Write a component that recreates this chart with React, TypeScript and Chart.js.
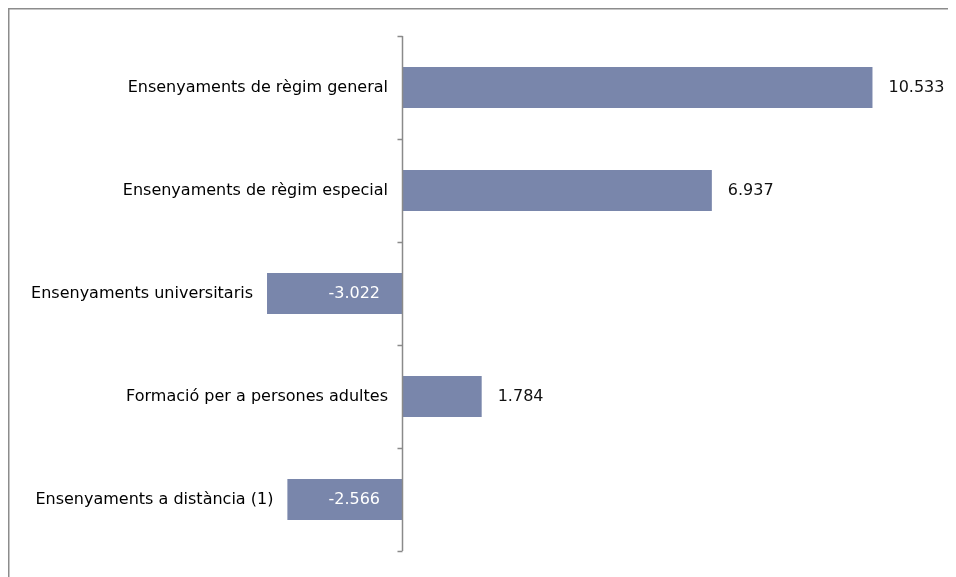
import React, { useEffect, useRef } from "react";
import { Chart, registerables } from "chart.js";

Chart.register(...registerables);

const categories = [
  "Ensenyaments de règim general",
  "Ensenyaments de règim especial",
  "Ensenyaments universitaris",
  "Formació per a persones adultes",
  "Ensenyaments a distància (1)",
];
const values = [10.533, 6.937, -3.022, 1.784, -2.566];
const valueLabels = ["10.533", "6.937", "-3.022", "1.784", "-2.566"];

const FONT = "'DejaVu Sans', sans-serif";
const BAR = "#7986ab";
const AXIS = "#8a8a8a";

const labelsPlugin = {
  id: "customLabels",
  afterDatasetsDraw(chart: any) {
    const { ctx, scales } = chart;
    const x = scales.x;
    const y = scales.y;
    const zero = x.getPixelForValue(0);
    ctx.save();
    ctx.font = `16px ${FONT}`;
    ctx.textBaseline = "middle";
    values.forEach((v, i) => {
      const cy = y.getPixelForValue(i);
      const end = x.getPixelForValue(v);
      // category label
      const left = Math.min(zero, end);
      ctx.fillStyle = "#000";
      ctx.textAlign = "right";
      ctx.fillText(categories[i], left - 14, cy);
      // value label
      if (v >= 0) {
        ctx.textAlign = "left";
        ctx.fillStyle = "#111";
        ctx.fillText(valueLabels[i], end + 16, cy);
      } else {
        ctx.textAlign = "right";
        ctx.fillStyle = "#ffffff";
        ctx.fillText(valueLabels[i], zero - 22, cy);
      }
    });
    ctx.restore();
  },
};

const framePlugin = {
  id: "frame",
  afterDraw(chart: any) {
    const { ctx, width, height } = chart;
    ctx.save();
    ctx.strokeStyle = "#8c8c8c";
    ctx.lineWidth = 1.5;
    ctx.beginPath();
    ctx.moveTo(0.75, height);
    ctx.lineTo(0.75, 0.75);
    ctx.lineTo(width, 0.75);
    ctx.stroke();
    ctx.restore();
  },
};

const axisPlugin = {
  id: "zeroAxis",
  afterDatasetsDraw(chart: any) {
    const { ctx, scales, chartArea } = chart;
    const x = scales.x;
    const y = scales.y;
    const zero = Math.round(x.getPixelForValue(0)) + 0.5;
    ctx.save();
    ctx.strokeStyle = AXIS;
    ctx.lineWidth = 1.5;
    ctx.beginPath();
    ctx.moveTo(zero, chartArea.top);
    ctx.lineTo(zero, chartArea.bottom);
    const n = categories.length;
    for (let i = 0; i <= n; i++) {
      const py =
        i < n
          ? y.getPixelForValue(i) - (y.getPixelForValue(1) - y.getPixelForValue(0)) / 2
          : y.getPixelForValue(n - 1) + (y.getPixelForValue(1) - y.getPixelForValue(0)) / 2;
      const ry = Math.round(py) + 0.5;
      ctx.moveTo(zero - 5, ry);
      ctx.lineTo(zero, ry);
    }
    ctx.stroke();
    ctx.restore();
  },
};

export default function App() {
  const ref = useRef<HTMLCanvasElement>(null);
  useEffect(() => {
    if (!ref.current) return;
    const chart = new Chart(ref.current, {
      type: "bar",
      data: {
        labels: categories,
        datasets: [
          {
            data: values,
            backgroundColor: BAR,
            borderWidth: 0,
            categoryPercentage: 1,
            barPercentage: 0.4,
          },
        ],
      },
      options: {
        indexAxis: "y",
        animation: false,
        responsive: false,
        maintainAspectRatio: false,
        layout: { padding: { left: 126, right: 18, top: 28, bottom: 26 } },
        plugins: { legend: { display: false }, tooltip: { enabled: false } },
        scales: {
          x: { display: false, min: -6, max: 12 },
          y: { display: false },
        },
      },
      plugins: [axisPlugin, labelsPlugin, framePlugin],
    });
    return () => chart.destroy();
  }, []);
  return (
    <div style={{ width: 948, height: 569 }}>
      <canvas ref={ref} width={948} height={569} style={{ display: "block" }} />
    </div>
  );
}
